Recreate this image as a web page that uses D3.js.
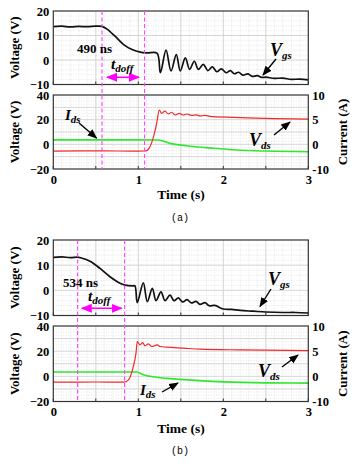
<!DOCTYPE html>
<html>
<head>
<meta charset="utf-8">
<script src="https://cdn.jsdelivr.net/npm/d3@7"></script>
<style>
body{margin:0;background:#fff}
text{font-family:"Liberation Serif","Times New Roman",serif;font-weight:bold;fill:#000}
</style>
</head>
<body>
<div id="chart"></div>
<script>
// axis ticks
var timeTicks=[0,1,2,3];
var vTopTicks=[-10,0,10,20];
var vBotTicks=[-20,0,20,40];
var iTicks=[-5,0,5,10];
var iTickLabels=["-10","0","5","10"];   // as printed on the right axis

// (a) waveforms: [time, value]
var vgsA=[[0,13.6],[0.1,13.8],[0.2,13.5],[0.3,13.7],[0.4,13.6],[0.5,13.8],[0.573,13.7],[0.632,12.6],[0.729,9.6],
  [0.827,6.3],[0.926,4.3],[1.024,3.2],[1.102,2.9],[1.22,2.8],[1.26,-5.2],[1.326,4.0],[1.385,-4.5],[1.447,2.2],
  [1.494,-4.5],[1.553,0.9],[1.604,-3.8],[1.659,-0.5],[1.706,-3.8],[1.765,-1.8],[1.818,-4.3],[1.871,-2.8],
  [1.924,-4.8],[1.976,-3.6],[2.035,-5.2],[2.082,-4.3],[2.129,-5.6],[2.18,-5.0],[2.23,-6.2],[2.29,-5.7],
  [2.34,-6.7],[2.4,-6.4],[2.45,-7.1],[2.5,-7.0],[2.6,-7.5],[2.7,-7.4],[2.8,-7.9],[2.9,-7.8],[3.0,-8.1]];
var vdsA=[[0,-5.5],[0.5,-5.3],[1.0,-5.5],[1.08,-5.4],[1.118,-4.0],[1.176,5.5],[1.216,17],[1.247,27.8],[1.275,25.1],
  [1.314,27],[1.353,24.6],[1.393,26],[1.432,23.8],[1.482,25.1],[1.529,23.8],[1.569,24.6],[1.628,23.5],[1.68,23.9],
  [1.726,23.0],[1.78,23.4],[1.882,22.4],[2.118,21.9],[2.5,21],[3.0,20.5]];
var idsA=[[0,0.9],[0.5,0.9],[1.0,0.9],[1.235,0.87],[1.373,0.2],[1.569,-0.3],[1.882,-0.8],[2.158,-1.15],[2.502,-1.36],[3.0,-1.5]];
var markA=[0.573,1.074];
var spanA="490 ns";

// (b) waveforms
var vgsB=[[0,13.1],[0.1,13.3],[0.2,13.0],[0.286,13.2],[0.314,13.0],[0.432,11.6],[0.549,8.7],[0.667,5.4],[0.785,2.8],
  [0.844,2.1],[0.941,1.8],[0.961,1.8],[0.988,-4.9],[1.059,3.0],[1.106,-4.5],[1.165,0.8],[1.208,-4.1],[1.267,-0.6],
  [1.314,-4.1],[1.373,-1.9],[1.42,-4.1],[1.471,-3.0],[1.522,-4.6],[1.573,-3.7],[1.624,-5.0],[1.679,-4.4],
  [1.726,-5.6],[1.785,-4.9],[1.832,-6.1],[1.9,-6.0],[2.0,-7.4],[2.1,-7.6],[2.2,-8.0],[2.35,-8.3],[2.5,-8.6],
  [2.7,-8.8],[2.85,-8.8],[3.0,-9.0]];
var vdsB=[[0,-4.6],[0.5,-4.5],[0.83,-4.6],[0.882,-3.0],[0.941,7.8],[0.973,18.4],[0.988,27.6],[1.02,25],[1.052,26.8],
  [1.079,24.2],[1.118,25.8],[1.158,23.7],[1.224,25],[1.255,23.7],[1.334,23.2],[1.529,22.4],[1.725,21.6],[2.2,21.0],[3.0,20.5]];
var idsB=[[0,0.85],[0.5,0.85],[0.98,0.85],[1.059,0.3],[1.334,-0.4],[1.49,-0.6],[2.0,-1.1],[2.5,-1.3],[3.0,-1.35]];
var markB=[0.286,0.839];
var spanB="534 ns";

var W=361,H=466;
var svg=d3.select("#chart").append("svg").attr("width",W).attr("height",H);
svg.append("rect").attr("width",W).attr("height",H).attr("fill","#fff");

var defs=svg.append("defs");
function marker(id,color){
  defs.append("marker").attr("id",id).attr("viewBox","0 0 10 10").attr("refX",9).attr("refY",5)
    .attr("markerWidth",7).attr("markerHeight",7).attr("orient","auto-start-reverse")
    .append("path").attr("d","M0,1L10,5L0,9Z").attr("fill",color);
}
marker("ah","#000");
marker("mh","#f0f");

var x=d3.scaleLinear().domain([0,3]).range([53.3,308.3]);

// pixel boxes: [top, bottom]
var panels=[
  {top:[11,84.5],bot:[95,169],titleY:199,capY:221,cap:"(a)",vgs:vgsA,vds:vdsA,ids:idsA,marks:markA,span:spanA,
   spanXY:[77,52.5],tXY:[111,69],arrY:77.3,arrX:[107,139],
   vgsL:[270,56],vgsArr:[276,59,263,75],idsL:[65,120],idsArr:[79,123,96.5,138],vdsL:[249,146],vdsArr:[274,135,290,122]},
  {top:[240,315.5],bot:[326,401.5],titleY:433,capY:454,cap:"(b)",vgs:vgsB,vds:vdsB,ids:idsB,marks:markB,span:spanB,
   spanXY:[63,286.5],tXY:[88,301],arrY:308.3,arrX:[81.7,121.7],
   vgsL:[268,285],vgsArr:[271,289,260,306.5],idsL:[140,395],idsArr:[162,392,178,383],vdsL:[258,377],vdsArr:[282,367,298,355]}
];

function frame(g,y,xMinor,yMinor,yMajor){
  var r=y.range();   // [bottom, top]
  g.selectAll(null).data(xMinor).enter().append("line")
    .attr("x1",d=>x(d)).attr("x2",d=>x(d)).attr("y1",r[1]).attr("y2",r[0])
    .attr("stroke","#d6d6d6").attr("stroke-width",0.6).attr("stroke-dasharray","1,1.5");
  g.selectAll(null).data(yMinor).enter().append("line")
    .attr("x1",x(0)).attr("x2",x(3)).attr("y1",d=>y(d)).attr("y2",d=>y(d))
    .attr("stroke","#d6d6d6").attr("stroke-width",0.6).attr("stroke-dasharray","1,1.5");
  g.selectAll(null).data(d3.range(0.5,3,0.5)).enter().append("line")
    .attr("x1",d=>x(d)).attr("x2",d=>x(d)).attr("y1",r[1]).attr("y2",r[0])
    .attr("stroke","#cfcfcf").attr("stroke-width",0.8);
  g.selectAll(null).data(yMajor).enter().append("line")
    .attr("x1",x(0)).attr("x2",x(3)).attr("y1",d=>y(d)).attr("y2",d=>y(d))
    .attr("stroke","#cfcfcf").attr("stroke-width",0.8);
}

function border(g,y){
  var r=y.range();
  g.append("rect").attr("x",x(0)).attr("y",r[1]).attr("width",x(3)-x(0)).attr("height",r[0]-r[1])
    .attr("fill","none").attr("stroke","#333").attr("stroke-width",1.2);
}

function sub(g,pos,main,subTxt,size,subSize){
  var t=g.append("text").attr("x",pos[0]).attr("y",pos[1]).style("font-style","italic");
  t.append("tspan").attr("font-size",size).text(main);
  t.append("tspan").attr("font-size",subSize).attr("dy",3).text(subTxt);
}

function arrow(g,a){
  g.append("line").attr("x1",a[0]).attr("y1",a[1]).attr("x2",a[2]).attr("y2",a[3])
    .attr("stroke","#000").attr("stroke-width",1.4).attr("marker-end","url(#ah)");
}

panels.forEach(function(p){
  var g=svg.append("g");
  var yT=d3.scaleLinear().domain([-10,20]).range([p.top[1],p.top[0]]);
  var yB=d3.scaleLinear().domain([-20,40]).range([p.bot[1],p.bot[0]]);
  var yI=d3.scaleLinear().domain([-5,10]).range([p.bot[1],p.bot[0]]);

  frame(g,yT,d3.range(0.1,3,0.1),d3.range(-8,20,2),[0,10]);
  frame(g,yB,d3.range(0.1,3,0.1),d3.range(-17.5,40,2.5),[-10,0,10,20,30]);

  // axes
  g.append("g").attr("transform","translate("+x(0)+",0)")
    .call(d3.axisLeft(yT).tickValues(vTopTicks).tickSize(0).tickPadding(4));
  g.append("g").attr("transform","translate("+x(0)+",0)")
    .call(d3.axisLeft(yB).tickValues(vBotTicks).tickSize(0).tickPadding(4));
  g.append("g").attr("transform","translate("+x(3)+",0)")
    .call(d3.axisRight(yI).tickValues(iTicks).tickSize(0).tickPadding(4).tickFormat((d,i)=>iTickLabels[i]));
  g.append("g").attr("transform","translate(0,"+p.bot[1]+")")
    .call(d3.axisBottom(x).tickValues(timeTicks).tickSize(0).tickPadding(6).tickFormat(d3.format("d")));
  g.selectAll(".domain").remove();
  g.selectAll(".tick text").attr("font-size",12.5).attr("font-family","Liberation Serif").attr("font-weight","bold").attr("fill","#000");

  // small inward ticks
  [yT,yB].forEach(function(y){
    var r=y.range();
    g.selectAll(null).data(d3.range(0,3.01,0.5)).enter().append("line")
      .attr("x1",d=>x(d)).attr("x2",d=>x(d)).attr("y1",r[0]).attr("y2",r[0]-3).attr("stroke","#333");
  });

  // traces
  var line=(y,c)=>d3.line().x(d=>x(d[0])).y(d=>y(d[1])).curve(c);
  g.append("path").datum(p.vgs).attr("d",line(yT,d3.curveCatmullRom.alpha(0.5))).attr("fill","none").attr("stroke","#111").attr("stroke-width",1.7);
  g.append("path").datum(p.ids).attr("d",line(yI,d3.curveMonotoneX)).attr("fill","none").attr("stroke","#2ee82e").attr("stroke-width",1.6);
  g.append("path").datum(p.vds).attr("d",line(yB,d3.curveMonotoneX)).attr("fill","none").attr("stroke","#f02a2a").attr("stroke-width",1.2);

  border(g,yT);
  border(g,yB);

  // turn-off delay markers
  g.selectAll(null).data(p.marks).enter().append("line")
    .attr("x1",d=>x(d)).attr("x2",d=>x(d)).attr("y1",p.top[0]).attr("y2",p.bot[1])
    .attr("stroke","#ff40ff").attr("stroke-width",1.1).attr("stroke-dasharray","4,2.5");
  g.append("line").attr("x1",p.arrX[0]).attr("x2",p.arrX[1]).attr("y1",p.arrY).attr("y2",p.arrY)
    .attr("stroke","#f0f").attr("stroke-width",1.6)
    .attr("marker-start","url(#mh)").attr("marker-end","url(#mh)");
  g.append("text").attr("x",p.spanXY[0]).attr("y",p.spanXY[1]).attr("font-size",13).text(p.span);
  sub(g,p.tXY,"t","doff",15.5,11);

  // trace labels
  sub(g,p.vgsL,"V","gs",18,11);
  arrow(g,p.vgsArr);
  sub(g,p.idsL,"I","ds",15,11);
  arrow(g,p.idsArr);
  sub(g,p.vdsL,"V","ds",18,11);
  arrow(g,p.vdsArr);

  // axis titles
  [p.top,p.bot].forEach(function(r){
    g.append("text").attr("transform","translate(19,"+((r[0]+r[1])/2)+") rotate(-90)")
      .attr("text-anchor","middle").attr("font-size",13).text("Voltage (V)");
  });
  g.append("text").attr("transform","translate(347,"+((p.bot[0]+p.bot[1])/2)+") rotate(-90)")
    .attr("text-anchor","middle").attr("font-size",13).text("Current (A)");
  g.append("text").attr("x",181).attr("y",p.titleY).attr("text-anchor","middle").attr("font-size",13.5).text("Time (s)");
  g.append("text").attr("x",180).attr("y",p.capY).attr("text-anchor","middle")
    .style("font-family","'Liberation Mono',monospace").style("font-weight","normal").attr("font-size",10).text(p.cap);
});
</script>
</body>
</html>
